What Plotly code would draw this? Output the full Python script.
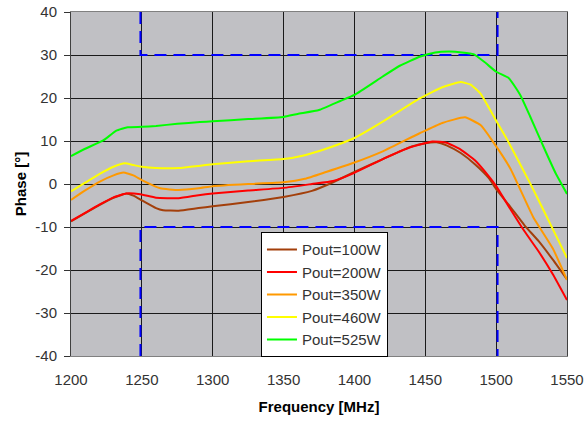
import plotly.graph_objects as go

# ---- data ----
x_100 = [1200, 1210, 1220, 1230, 1235, 1239, 1244, 1250, 1260, 1265, 1276, 1290, 1300, 1325, 1350, 1370, 1385, 1400, 1420, 1440, 1450, 1458, 1465, 1475, 1485, 1495, 1500, 1510, 1520, 1530, 1540, 1550]
y_100 = [-8.7, -6.8, -4.9, -3.2, -2.6, -2.2, -2.7, -3.8, -5.6, -6.1, -6.2, -5.6, -5.2, -4.2, -3.0, -1.6, 0.4, 2.8, 5.8, 8.7, 9.5, 9.7, 9.0, 7.2, 4.6, 1.3, -1.2, -5.3, -9.6, -13.3, -17.6, -22.2]

x_200 = [1200, 1210, 1220, 1230, 1239, 1249, 1260, 1276, 1290, 1300, 1325, 1350, 1370, 1385, 1400, 1420, 1440, 1455, 1465, 1475, 1485, 1495, 1500, 1510, 1520, 1530, 1540, 1550]
y_200 = [-8.6, -6.7, -4.8, -3.1, -2.2, -2.4, -3.2, -3.3, -2.6, -2.2, -1.5, -0.9, 0.0, 0.7, 2.6, 5.8, 8.6, 9.9, 9.6, 8.0, 5.5, 1.7, -0.5, -5.8, -11.0, -15.7, -21.0, -27.0]

x_350 = [1200, 1210, 1220, 1230, 1237, 1244, 1250, 1263, 1276, 1290, 1300, 1325, 1350, 1365, 1380, 1400, 1420, 1446, 1462, 1478, 1489, 1497, 1510, 1526, 1540, 1550]
y_350 = [-3.7, -1.5, 0.5, 2.0, 2.65, 2.0, 0.9, -1.0, -1.4, -1.0, -0.5, 0.0, 0.4, 1.2, 2.8, 5.0, 7.6, 11.8, 14.2, 15.5, 13.7, 10.2, 3.6, -7.6, -15.0, -22.3]

x_460 = [1200, 1210, 1220, 1230, 1238, 1244, 1250, 1260, 1276, 1290, 1300, 1325, 1350, 1365, 1380, 1400, 1420, 1446, 1462, 1475, 1482, 1489, 1499, 1508, 1525, 1540, 1550]
y_460 = [-1.7, 0.3, 2.3, 4.0, 4.8, 4.4, 4.0, 3.7, 3.7, 4.2, 4.6, 5.3, 5.8, 6.7, 8.2, 10.7, 14.5, 19.9, 22.5, 23.7, 23.1, 21.0, 15.3, 10.2, -0.5, -10.5, -17.2]

x_525 = [1200, 1210, 1223, 1232, 1240, 1250, 1260, 1275, 1291, 1300, 1325, 1350, 1360, 1375, 1390, 1400, 1420, 1432, 1446, 1457, 1467, 1476, 1484, 1492, 1500, 1509, 1517, 1524, 1535, 1542, 1550]
y_525 = [6.5, 8.2, 10.2, 12.4, 13.2, 13.3, 13.5, 14.0, 14.4, 14.6, 15.1, 15.6, 16.3, 17.2, 19.3, 20.7, 25.0, 27.5, 29.6, 30.6, 30.8, 30.6, 30.2, 28.3, 26.1, 24.6, 20.7, 15.7, 7.5, 2.5, -2.3]

series_names = ["Pout=100W", "Pout=200W", "Pout=350W", "Pout=460W", "Pout=525W"]
series_x = [x_100, x_200, x_350, x_460, x_525]
series_y = [y_100, y_200, y_350, y_460, y_525]
series_colors = ["#a33f0b", "#ff0000", "#ff9900", "#ffff00", "#00ff00"]

spec_x = [1249, 1249, 1501, 1501]
spec_upper_y = [40, 30, 30, 40]
spec_lower_y = [-40, -10, -10, -40]

x_ticks = [1200, 1250, 1300, 1350, 1400, 1450, 1500, 1550]
y_ticks = [-40, -30, -20, -10, 0, 10, 20, 30, 40]
y_tick_text = ["-40", "-30", "-20", "-10", "0", "10", "20", "30", "40"]

FONT = "Arial, 'Liberation Sans', sans-serif"

fig = go.Figure()
for sx, sy in [(spec_x, spec_upper_y), (spec_x, spec_lower_y)]:
    fig.add_trace(go.Scatter(x=sx, y=sy, mode="lines", showlegend=False,
                             line=dict(color="#0000ff", width=2, dash="12px,7px"),
                             hoverinfo="skip"))
for name, sx, sy, c in zip(series_names, series_x, series_y, series_colors):
    fig.add_trace(go.Scatter(x=sx, y=sy, mode="lines", name=name,
                             line=dict(color=c, width=2, shape="spline", smoothing=0.4)))

fig.update_layout(
    width=586, height=422,
    margin=dict(l=71, r=19, t=12, b=66, autoexpand=False),
    paper_bgcolor="white",
    plot_bgcolor="#c0c0c4",
    font=dict(family=FONT, size=15, color="#333333"),
    showlegend=True,
    legend=dict(x=0.383, y=0.36, xanchor="left", yanchor="top",
                bgcolor="white", bordercolor="black", borderwidth=1,
                font=dict(family=FONT, size=15, color="#333333"),
                itemwidth=30, tracegroupgap=0),
    xaxis=dict(range=[1200, 1550], tickvals=x_ticks, ticks="", showgrid=True,
               gridcolor="#1a1a1a", gridwidth=1, showline=True, linecolor="#808080",
               linewidth=1, mirror=True, zeroline=False, ticklabelstandoff=10,
               automargin=False,
               title=dict(text="<b>Frequency [MHz]</b>", font=dict(family=FONT, size=15, color="black"), standoff=14)),
    yaxis=dict(range=[-40, 40], tickvals=y_ticks, ticktext=y_tick_text, ticks="outside", ticklen=6,
               tickcolor="#333333", showgrid=True, gridcolor="#1a1a1a", gridwidth=1,
               showline=True, linecolor="#404040", linewidth=1, mirror=True,
               zeroline=False, ticklabelstandoff=4, automargin=False,
               title=dict(text="<b>Phase [°]</b>", font=dict(family=FONT, size=15, color="black"), standoff=5)),
)

fig.write_html("out.html")
